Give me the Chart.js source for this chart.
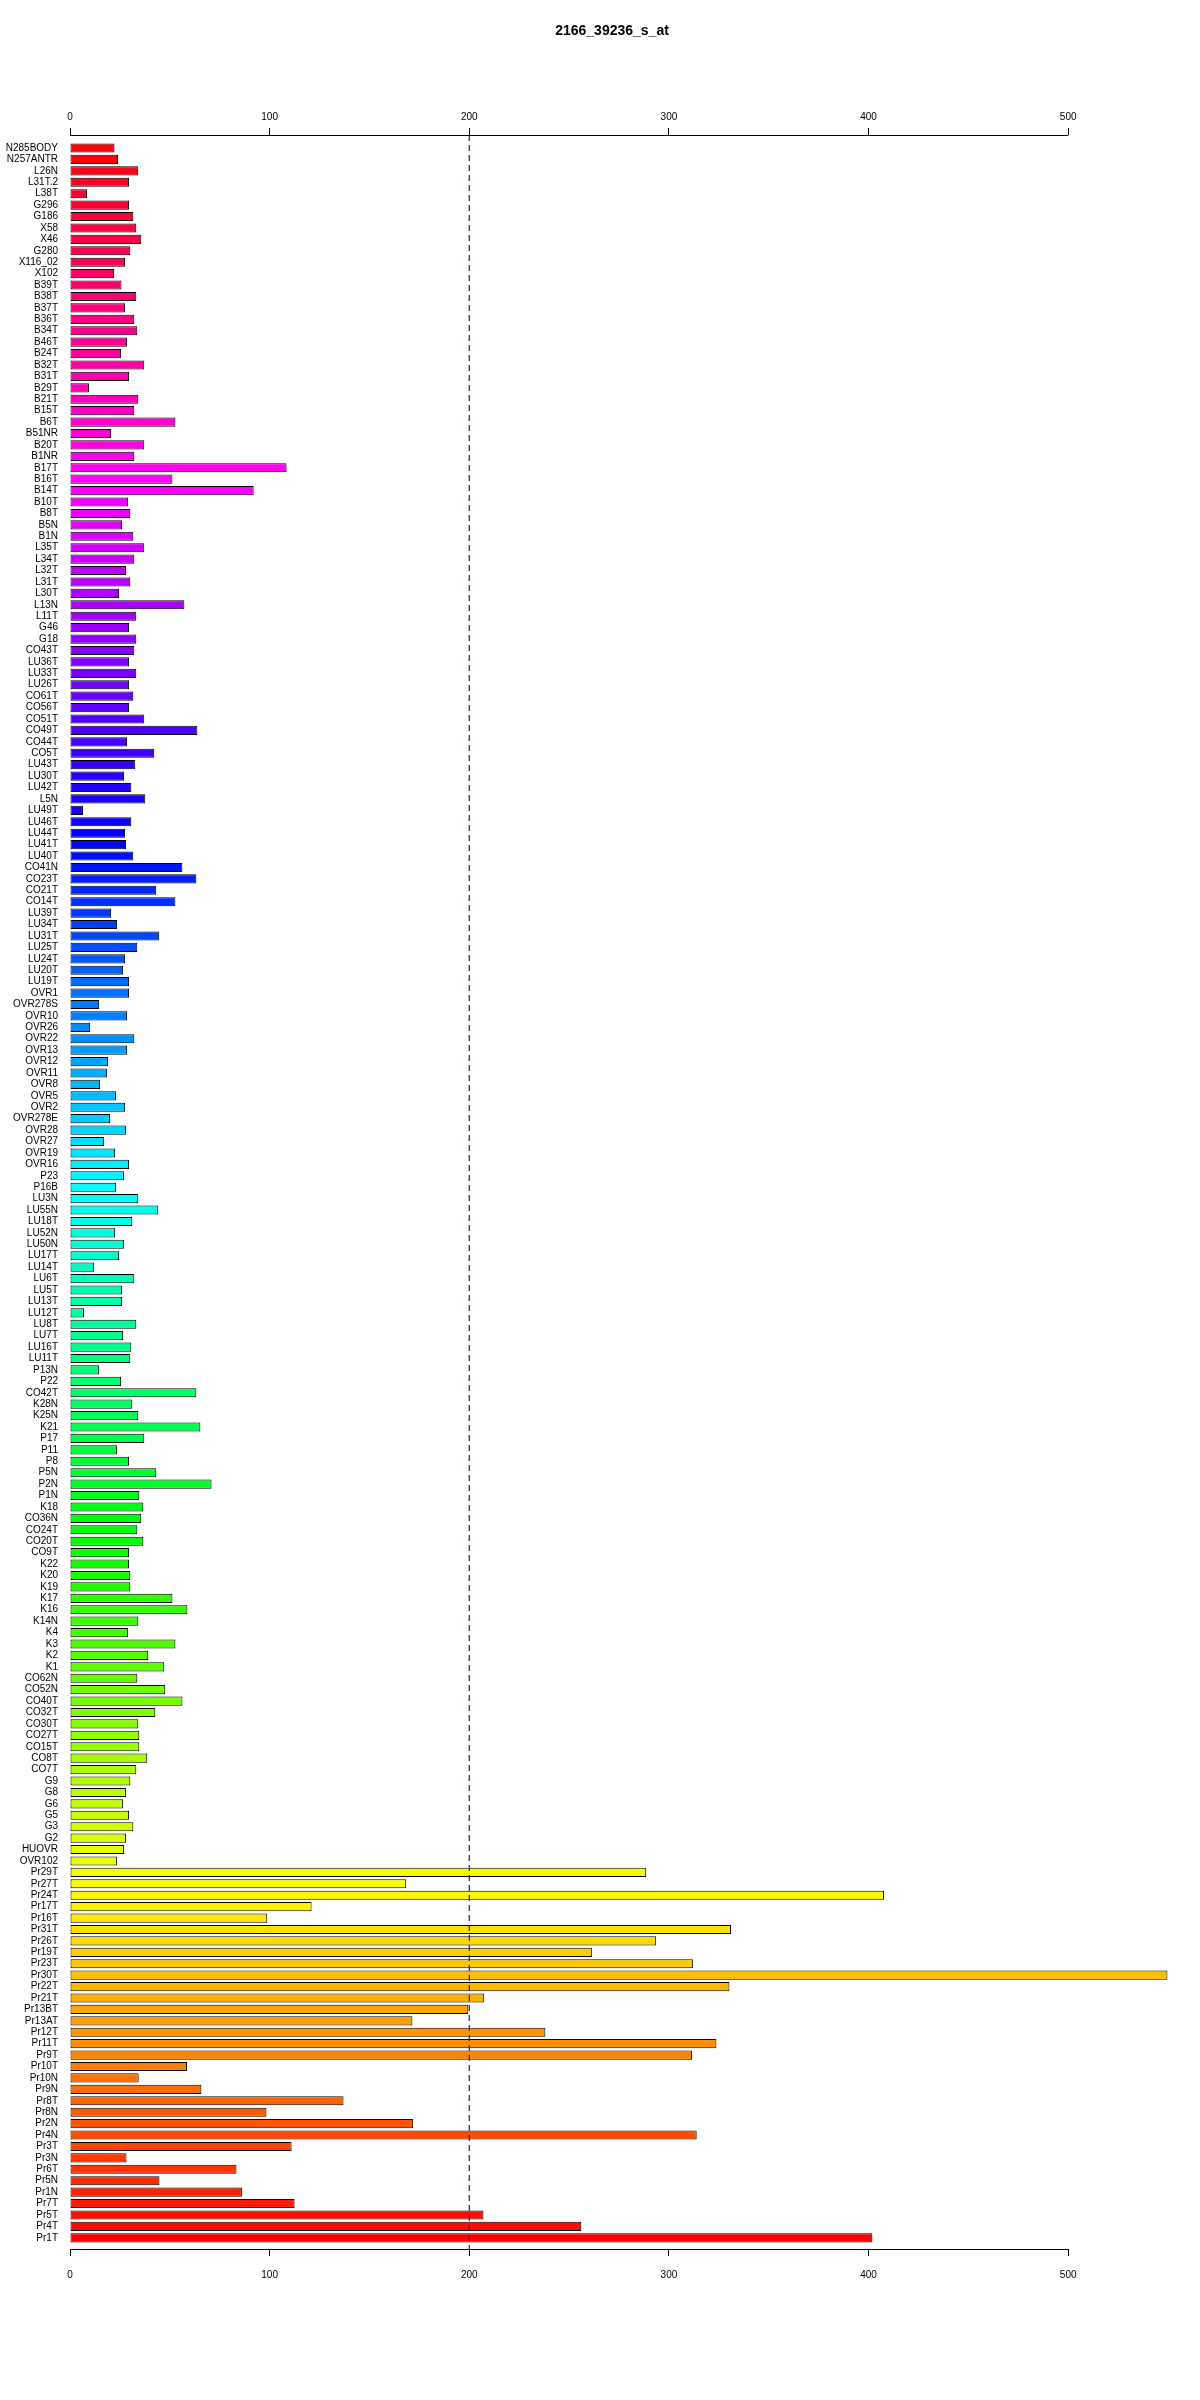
<!DOCTYPE html>
<html>
<head>
<meta charset="utf-8">
<title>2166_39236_s_at</title>
<script src="https://cdn.jsdelivr.net/npm/chart.js@4/dist/chart.umd.min.js"></script>
<style>
  html, body { margin: 0; padding: 0; background: #fff; }
  #wrap { width: 1200px; height: 2400px; }
</style>
</head>
<body>
<div id="wrap"><canvas id="graph" width="1200" height="2400"></canvas></div>
<script>
// titre et seuil
const TITLE = "2166_39236_s_at";
const THRESHOLD = 200;
const X_TICKS = [0, 100, 200, 300, 400, 500];

// echantillons, de haut en bas
const samples = [
    "N285BODY", "N257ANTR", "L26N", "L31T.2", "L38T", "G296", "G186", "X58", "X46", "G280",
    "X116_02", "X102", "B39T", "B38T", "B37T", "B36T", "B34T", "B46T", "B24T", "B32T",
    "B31T", "B29T", "B21T", "B15T", "B6T", "B51NR", "B20T", "B1NR", "B17T", "B16T",
    "B14T", "B10T", "B8T", "B5N", "B1N", "L35T", "L34T", "L32T", "L31T", "L30T",
    "L13N", "L11T", "G46", "G18", "CO43T", "LU36T", "LU33T", "LU26T", "CO61T", "CO56T",
    "CO51T", "CO49T", "CO44T", "CO5T", "LU43T", "LU30T", "LU42T", "L5N", "LU49T", "LU46T",
    "LU44T", "LU41T", "LU40T", "CO41N", "CO23T", "CO21T", "CO14T", "LU39T", "LU34T", "LU31T",
    "LU25T", "LU24T", "LU20T", "LU19T", "OVR1", "OVR278S", "OVR10", "OVR26", "OVR22", "OVR13",
    "OVR12", "OVR11", "OVR8", "OVR5", "OVR2", "OVR278E", "OVR28", "OVR27", "OVR19", "OVR16",
    "P23", "P16B", "LU3N", "LU55N", "LU18T", "LU52N", "LU50N", "LU17T", "LU14T", "LU6T",
    "LU5T", "LU13T", "LU12T", "LU8T", "LU7T", "LU16T", "LU11T", "P13N", "P22", "CO42T",
    "K28N", "K25N", "K21", "P17", "P11", "P8", "P5N", "P2N", "P1N", "K18",
    "CO36N", "CO24T", "CO20T", "CO9T", "K22", "K20", "K19", "K17", "K16", "K14N",
    "K4", "K3", "K2", "K1", "CO62N", "CO52N", "CO40T", "CO32T", "CO30T", "CO27T",
    "CO15T", "CO8T", "CO7T", "G9", "G8", "G6", "G5", "G3", "G2", "HUOVR",
    "OVR102", "Pr29T", "Pr27T", "Pr24T", "Pr17T", "Pr16T", "Pr31T", "Pr26T", "Pr19T", "Pr23T",
    "Pr30T", "Pr22T", "Pr21T", "Pr13BT", "Pr13AT", "Pr12T", "Pr11T", "Pr9T", "Pr10T", "Pr10N",
    "Pr9N", "Pr8T", "Pr8N", "Pr2N", "Pr4N", "Pr3T", "Pr3N", "Pr6T", "Pr5N", "Pr1N",
    "Pr7T", "Pr5T", "Pr4T", "Pr1T"
];

// valeurs d'expression, meme ordre
const expression = [
    22.3, 24.1, 34.2, 29.6, 8.5, 29.6, 31.7, 33.2, 35.7, 30.2,
    27.6, 22.1, 25.8, 33.2, 27.6, 32.2, 33.7, 28.6, 25.6, 37.2,
    29.6, 9.5, 34.2, 32.2, 52.8, 20.6, 37.2, 32.2, 108.5, 51.3,
    92.0, 29.1, 30.2, 26.1, 31.7, 37.2, 32.2, 28.1, 30.2, 24.6,
    57.3, 33.2, 29.6, 33.2, 32.2, 29.6, 33.2, 29.6, 31.7, 29.6,
    37.2, 63.8, 28.6, 42.2, 32.7, 27.1, 30.7, 37.7, 6.5, 30.7,
    27.6, 28.1, 31.7, 56.3, 63.3, 43.2, 52.8, 20.6, 23.6, 44.7,
    33.7, 27.6, 26.6, 29.6, 29.6, 14.6, 28.6, 10.1, 32.2, 28.6,
    19.1, 18.6, 15.1, 23.1, 27.6, 20.1, 28.1, 17.1, 22.6, 29.6,
    27.1, 23.1, 34.2, 44.2, 31.2, 22.6, 27.1, 24.6, 12.1, 32.2,
    26.1, 26.1, 7.0, 33.2, 26.6, 30.7, 30.2, 14.6, 25.6, 63.3,
    31.2, 34.2, 65.3, 37.2, 23.6, 29.6, 43.2, 70.9, 34.7, 36.7,
    35.7, 33.7, 36.7, 29.6, 29.6, 30.2, 30.2, 51.3, 58.8, 34.2,
    29.1, 52.8, 39.2, 47.2, 33.7, 47.7, 56.3, 42.7, 34.2, 34.7,
    34.7, 38.7, 33.2, 30.2, 28.1, 26.6, 29.6, 31.7, 28.1, 27.1,
    23.6, 288.6, 168.4, 407.7, 121.0, 98.8, 331.1, 293.6, 261.4, 312.0,
    549.7, 330.3, 207.5, 199.5, 171.5, 238.1, 323.8, 311.6, 58.6, 34.4,
    65.8, 137.0, 98.4, 171.9, 313.9, 111.0, 28.3, 83.4, 44.8, 86.1,
    112.5, 207.1, 256.1, 401.9
];

// couleurs arc-en-ciel, rouge en bas et on remonte
const n = samples.length;
const colors = samples.map((s, i) => `hsl(${360 * (n - 1 - i) / n}, 100%, 50%)`);

const Y_MIN = -1.14;
const Y_MAX = n - 1 + 0.98;
const FONT = '"Liberation Sans", Arial, sans-serif';

// ligne d'axe de 0 a 500 seulement, comme dans R
const axisLines = {
    id: 'axisLines',
    afterDatasetsDraw(chart) {
        const ctx = chart.ctx;
        const x = chart.scales.x;
        const a = chart.chartArea;
        const x0 = x.getPixelForValue(X_TICKS[0]);
        const x1 = x.getPixelForValue(X_TICKS[X_TICKS.length - 1]);
        ctx.save();
        ctx.strokeStyle = '#000';
        ctx.lineWidth = 1;
        ctx.beginPath();
        ctx.moveTo(x0, Math.round(a.top) + 0.5);
        ctx.lineTo(x1, Math.round(a.top) + 0.5);
        ctx.moveTo(x0, Math.round(a.bottom) + 0.5);
        ctx.lineTo(x1, Math.round(a.bottom) + 0.5);
        ctx.stroke();
        ctx.restore();
    }
};

// titre centre sur la zone du graphique
const titleDraw = {
    id: 'titleDraw',
    afterDraw(chart) {
        const ctx = chart.ctx;
        ctx.save();
        ctx.font = 'bold 14px ' + FONT;
        ctx.fillStyle = '#000';
        ctx.textAlign = 'center';
        ctx.textBaseline = 'middle';
        ctx.fillText(TITLE, 612, 31);
        ctx.restore();
    }
};

const xScale = (position) => ({
    type: 'linear',
    position: position,
    min: 0,
    max: 560,
    afterBuildTicks: scale => { scale.ticks = X_TICKS.map(v => ({ value: v })); },
    afterFit: scale => { scale.height = position === 'top' ? 135 : 151; },
    grid: {
        display: true,
        drawOnChartArea: false,
        drawTicks: true,
        tickLength: 7,
        color: '#000',
        lineWidth: 1
    },
    border: { display: false },
    ticks: {
        color: '#000',
        font: { family: FONT, size: 10 },
        padding: position === 'top' ? 5 : 13,
        maxRotation: 0
    }
});

window.onload = function () {
    new Chart(document.getElementById('graph'), {
        type: 'bar',
        data: {
            datasets: [
                {
                    type: 'line',
                    data: [{ x: THRESHOLD, y: Y_MIN }, { x: THRESHOLD, y: Y_MAX }],
                    borderColor: '#1f1f8c',
                    borderWidth: 1.2,
                    borderDash: [6, 4],
                    pointRadius: 0,
                    xAxisID: 'x',
                    yAxisID: 'y',
                    order: 1
                },
                {
                    data: expression.map((v, i) => ({ x: v, y: i })),
                    backgroundColor: colors,
                    borderColor: '#000',
                    borderWidth: 1,
                    borderSkipped: false,
                    categoryPercentage: 0.8,
                    barPercentage: 1,
                    xAxisID: 'x',
                    yAxisID: 'y',
                    order: 2
                }
            ]
        },
        options: {
            indexAxis: 'y',
            responsive: false,
            animation: false,
            layout: { padding: { top: 0, right: 12, bottom: 0, left: 0 } },
            plugins: {
                legend: { display: false },
                tooltip: { enabled: false },
                title: { display: false }
            },
            scales: {
                x: xScale('bottom'),
                x2: xScale('top'),
                y: {
                    type: 'linear',
                    reverse: true,
                    offset: false,
                    min: Y_MIN,
                    max: Y_MAX,
                    afterBuildTicks: scale => { scale.ticks = samples.map((s, i) => ({ value: i })); },
                    afterFit: scale => { scale.width = 70; },
                    grid: { display: false, offset: false },
                    border: { display: false },
                    ticks: {
                        autoSkip: false,
                        color: '#000',
                        font: { family: FONT, size: 10 },
                        padding: 4,
                        callback: value => samples[value]
                    }
                }
            }
        },
        plugins: [axisLines, titleDraw]
    });
};
</script>
</body>
</html>
